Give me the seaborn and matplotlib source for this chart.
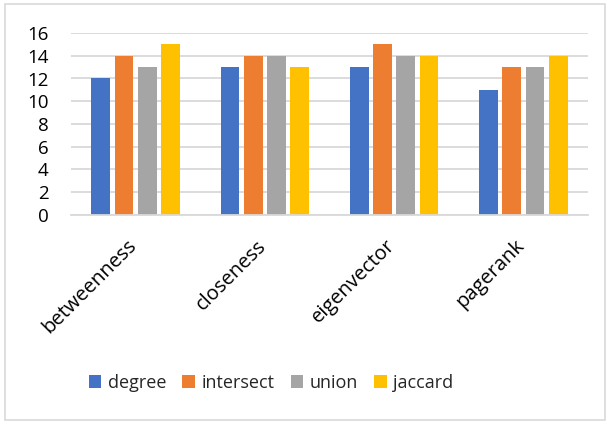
import matplotlib
matplotlib.use("Agg")
import matplotlib.pyplot as plt
import seaborn as sns
import pandas as pd
from matplotlib.patches import Rectangle
from matplotlib.transforms import ScaledTranslation

categories = ["betweenness", "closeness", "eigenvector", "pagerank"]
series = ["degree", "intersect", "union", "jaccard"]
degree = [12, 13, 13, 11]
intersect = [14, 14, 15, 13]
union = [13, 14, 14, 13]
jaccard = [15, 13, 14, 14]
colors = ["#4472C4", "#ED7D31", "#A5A5A5", "#FFC000"]
yticks = [0, 2, 4, 6, 8, 10, 12, 14, 16]

rows = []
for name, vals in zip(series, [degree, intersect, union, jaccard]):
    for c, v in zip(categories, vals):
        rows.append({"category": c, "series": name, "value": v})
df = pd.DataFrame(rows)

sns.set_theme(style="white")
plt.rcParams["font.family"] = ["Open Sans", "DejaVu Sans"]

fig = plt.figure(figsize=(6.11, 4.23), dpi=100)
fig.patches.append(Rectangle((5/611, 3/423), 600/611, 416/423, transform=fig.transFigure,
                             fill=False, edgecolor="#D9D9D9", linewidth=1.2))
ax = fig.add_axes([71/611, 1-215/423, 517/611, 182/423])

sns.barplot(data=df, x="category", y="value", hue="series", hue_order=series,
            palette=colors, width=0.72, gap=0.2, saturation=1, ax=ax, legend=True,
            linewidth=0)

ax.set_ylim(0, 16)
ax.set_yticks(yticks)
ax.set_xlim(-0.5, 3.5)
ax.yaxis.grid(True, color="#D9D9D9", linewidth=1.3)
ax.set_axisbelow(True)
for s in ["top", "right", "left"]:
    ax.spines[s].set_visible(False)
ax.spines["bottom"].set_color("#D9D9D9")
ax.spines["bottom"].set_linewidth(1.3)
ax.set_xlabel("")
ax.set_ylabel("")
ax.tick_params(axis="y", labelsize=13.5, colors="black", length=0, pad=16)
ax.tick_params(axis="x", labelsize=14.5, colors="black", length=0, pad=15)
offset = ScaledTranslation(-9/100, 0, fig.dpi_scale_trans)
for lab in ax.get_xticklabels():
    lab.set_rotation(45)
    lab.set_ha("right")
    lab.set_va("top")
    lab.set_rotation_mode("anchor")
    lab.set_transform(lab.get_transform() + offset)
for lab in ax.get_yticklabels():
    lab.set_ha("right")

handles, labels = ax.get_legend_handles_labels()
ax.legend_.remove()
fig.legend(handles, labels, loc="center", bbox_to_anchor=(271/611, 1-383/423), ncol=4,
           frameon=False, fontsize=13, handlelength=0.7, handleheight=0.7,
           handletextpad=0.35, columnspacing=0.9)

fig.savefig("out.png", dpi=100)
